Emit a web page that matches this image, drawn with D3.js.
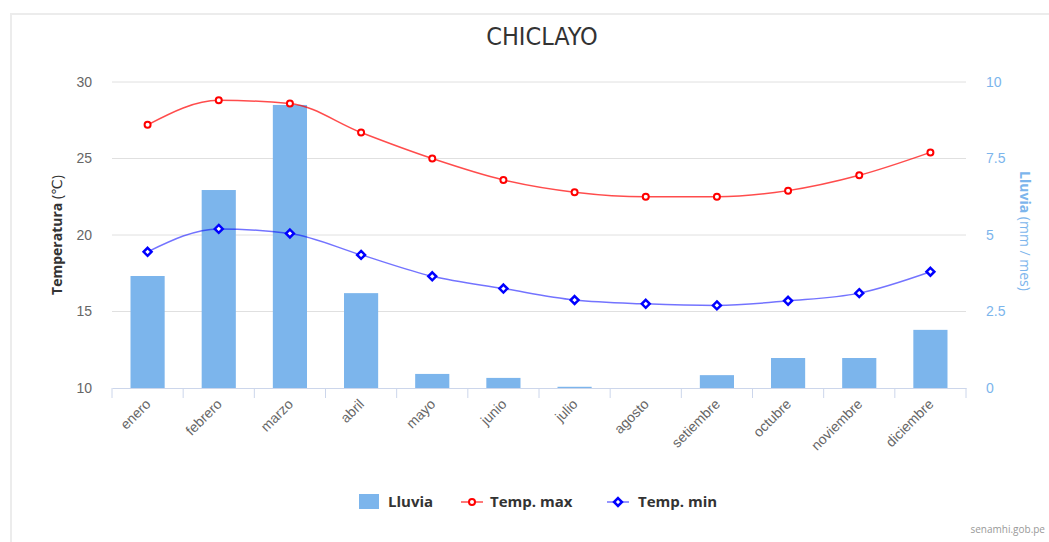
<!DOCTYPE html>
<html>
<head>
<meta charset="utf-8">
<script src="https://cdn.jsdelivr.net/npm/d3@7"></script>
<style>
  body { margin: 0; background: #fff; }
  svg { display: block; font-family: "Open Sans", "DejaVu Sans", sans-serif; }
</style>
</head>
<body>
<svg id="chart" width="1049" height="542"></svg>
<script>
const months = ["enero", "febrero", "marzo", "abril", "mayo", "junio", "julio",
  "agosto", "setiembre", "octubre", "noviembre", "diciembre"];
const lluvia = [3.66, 6.47, 9.25, 3.1, 0.46, 0.33, 0.04, 0, 0.42, 0.98, 0.98, 1.9];
const tempMax = [27.2, 28.8, 28.6, 26.7, 25.0, 23.6, 22.8, 22.5, 22.5, 22.9, 23.9, 25.4];
const tempMin = [18.9, 20.4, 20.1, 18.7, 17.3, 16.5, 15.75, 15.5, 15.4, 15.7, 16.2, 17.6];
const tempTicks = [10, 15, 20, 25, 30];
const rainTicks = [0, 2.5, 5, 7.5, 10];

const margin = { top: 82, left: 112, right: 83, bottom: 154 };
const W = 1049, H = 542;
const width = W - margin.left - margin.right;
const height = H - margin.top - margin.bottom;

const svg = d3.select("#chart");

// outer frame
svg.append("path")
  .attr("d", `M11,${H} V14 H${W}`)
  .attr("fill", "none")
  .attr("stroke", "#ececec")
  .attr("stroke-width", 2);

svg.append("text")
  .attr("x", 542).attr("y", 45)
  .attr("text-anchor", "middle")
  .attr("fill", "#333")
  .style("font-size", "25px")
  .style("font-family", "'DejaVu Sans Condensed', 'Open Sans', sans-serif")
  .text("CHICLAYO");

const g = svg.append("g").attr("transform", `translate(${margin.left},${margin.top})`);

const x = d3.scaleBand().domain(months).range([0, width]);
const yT = d3.scaleLinear().domain([10, 30]).range([height, 0]);
const yR = d3.scaleLinear().domain([0, 10]).range([height, 0]);

// gridlines
g.append("g")
  .selectAll("line")
  .data(tempTicks.filter((d) => d > 10))
  .join("line")
  .attr("x1", 0).attr("x2", width)
  .attr("y1", (d) => yT(d)).attr("y2", (d) => yT(d))
  .attr("stroke", "#e0e0e0");

// left axis labels
g.append("g")
  .call(d3.axisLeft(yT).tickValues(tempTicks).tickSize(0).tickPadding(20))
  .call((a) => a.select(".domain").remove())
  .selectAll("text")
  .attr("fill", "#666")
  .style("font-size", "14px");

// right axis labels
g.append("g")
  .attr("transform", `translate(${width},0)`)
  .call(d3.axisRight(yR).tickValues(rainTicks).tickSize(0).tickPadding(20)
    .tickFormat((d) => d))
  .call((a) => a.select(".domain").remove())
  .selectAll("text")
  .attr("fill", "#7cb5ec")
  .style("font-size", "14px");

// axis titles
svg.append("text")
  .attr("transform", `translate(62,${margin.top + height / 2}) rotate(-90)`)
  .attr("text-anchor", "middle")
  .attr("fill", "#333")
  .style("font-size", "14px")
  .call((t) => {
    t.append("tspan").style("font-weight", "bold").text("Temperatura");
    t.append("tspan").text(" (℃)");
  });

svg.append("text")
  .attr("transform", `translate(1020,${margin.top + height / 2 - 4}) rotate(90)`)
  .attr("text-anchor", "middle")
  .attr("fill", "#7cb5ec")
  .style("font-size", "14px")
  .call((t) => {
    t.append("tspan").style("font-weight", "bold").text("Lluvia");
    t.append("tspan").text(" (mm / mes)");
  });

// bars
const bw = x.bandwidth() * 0.48;
g.append("g")
  .selectAll("rect")
  .data(months.map((m, i) => ({ m, v: lluvia[i] })))
  .join("rect")
  .attr("x", (d) => x(d.m) + (x.bandwidth() - bw) / 2)
  .attr("y", (d) => yR(d.v))
  .attr("width", bw)
  .attr("height", (d) => height - yR(d.v))
  .attr("fill", "#7cb5ec");

// x axis
const xAxis = g.append("g")
  .attr("transform", `translate(0,${height})`)
  .call(d3.axisBottom(x).tickSize(0).tickPadding(0));
xAxis.select(".domain").attr("stroke", "#ccd6eb");
xAxis.append("g")
  .selectAll("line")
  .data(d3.range(months.length + 1))
  .join("line")
  .attr("x1", (i) => i * x.step()).attr("x2", (i) => i * x.step())
  .attr("y1", 0).attr("y2", 10)
  .attr("stroke", "#ccd6eb");
xAxis.selectAll(".tick text")
  .attr("fill", "#666")
  .style("font-size", "14px")
  .style("text-anchor", "end")
  .attr("dy", null)
  .attr("transform", "translate(4,17) rotate(-45)");

// lines
const line = (arr) => d3.line()
  .x((d, i) => x(months[i]) + x.bandwidth() / 2)
  .y((d) => yT(d))
  .curve(d3.curveMonotoneX)(arr);

g.append("path").attr("d", line(tempMax))
  .attr("fill", "none").attr("stroke", "#ff0000").attr("stroke-width", 1.5).attr("stroke-opacity", 0.7);
g.append("path").attr("d", line(tempMin))
  .attr("fill", "none").attr("stroke", "#0000ff").attr("stroke-width", 1.5).attr("stroke-opacity", 0.55);

g.append("g").selectAll("circle")
  .data(tempMax)
  .join("circle")
  .attr("cx", (d, i) => x(months[i]) + x.bandwidth() / 2)
  .attr("cy", (d) => yT(d))
  .attr("r", 3)
  .attr("fill", "#fff").attr("stroke", "#ff0000").attr("stroke-width", 2);

const diamond = d3.symbol().type(d3.symbolDiamond2).size(40);
g.append("g").selectAll("path")
  .data(tempMin)
  .join("path")
  .attr("d", diamond)
  .attr("transform", (d, i) => `translate(${x(months[i]) + x.bandwidth() / 2},${yT(d)})`)
  .attr("fill", "#fff").attr("stroke", "#0000ff").attr("stroke-width", 2.5);

// legend
const leg = svg.append("g").style("font-size", "15px").style("font-weight", "bold").attr("fill", "#333");
leg.append("rect").attr("x", 359).attr("y", 494).attr("width", 20).attr("height", 15).attr("fill", "#7cb5ec");
leg.append("text").attr("x", 388).attr("y", 507).text("Lluvia");

leg.append("line").attr("x1", 461).attr("x2", 483).attr("y1", 502).attr("y2", 502)
  .attr("stroke", "#ff0000").attr("stroke-width", 1.5).attr("stroke-opacity", 0.7);
leg.append("circle").attr("cx", 472).attr("cy", 502).attr("r", 3)
  .attr("fill", "#fff").attr("stroke", "#ff0000").attr("stroke-width", 2);
leg.append("text").attr("x", 490).attr("y", 507).text("Temp. max");

leg.append("line").attr("x1", 607).attr("x2", 629).attr("y1", 502).attr("y2", 502)
  .attr("stroke", "#0000ff").attr("stroke-width", 1.5).attr("stroke-opacity", 0.55);
leg.append("path").attr("d", diamond).attr("transform", "translate(618,502)")
  .attr("fill", "#fff").attr("stroke", "#0000ff").attr("stroke-width", 2.5);
leg.append("text").attr("x", 638).attr("y", 507).text("Temp. min");

svg.append("text")
  .attr("x", 1045).attr("y", 533)
  .attr("text-anchor", "end")
  .attr("fill", "#999")
  .style("font-size", "10px")
  .text("senamhi.gob.pe");
</script>
</body>
</html>
